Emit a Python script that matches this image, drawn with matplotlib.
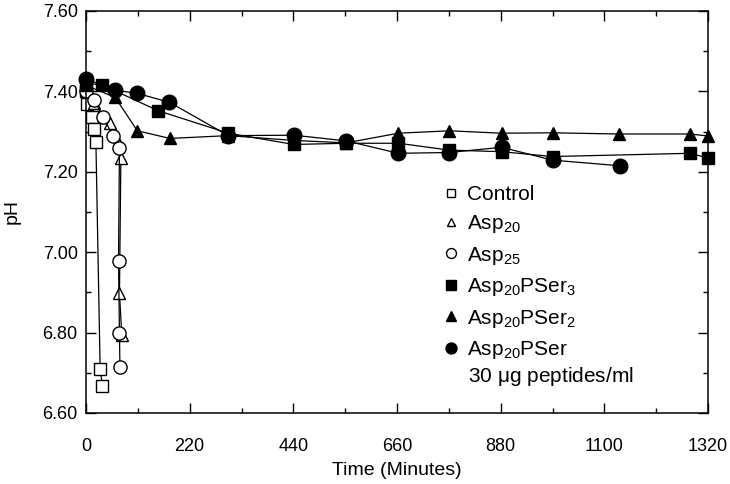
import matplotlib
matplotlib.use("Agg")
import matplotlib.pyplot as plt
from matplotlib.ticker import MultipleLocator

plt.rcParams['font.family'] = ['Liberation Sans', 'DejaVu Sans']
plt.rcParams['mathtext.fontset'] = 'custom'
plt.rcParams['mathtext.rm'] = 'Liberation Sans'
plt.rcParams['mathtext.it'] = 'Liberation Sans:italic'
plt.rcParams['mathtext.default'] = 'regular'

# time (minutes) / pH
control_t = [0, 3, 13, 18, 21, 30, 35]
control_ph = [7.40, 7.368, 7.337, 7.307, 7.275, 6.709, 6.667]

asp20_t = [0, 17, 50, 71, 74, 71, 76]
asp20_ph = [7.41, 7.37, 7.321, 7.268, 7.234, 6.898, 6.794]

asp25_t = [0, 17, 37, 57, 71, 69, 71, 72]
asp25_ph = [7.40, 7.378, 7.336, 7.289, 7.258, 6.978, 6.798, 6.715]

pser3_t = [0, 35, 153, 302, 441, 552, 663, 771, 882, 990, 1282, 1321]
pser3_ph = [7.42, 7.416, 7.352, 7.296, 7.268, 7.271, 7.271, 7.254, 7.250, 7.238, 7.246, 7.234]

pser2_t = [0, 62, 109, 178, 302, 441, 552, 663, 771, 882, 990, 1131, 1282, 1321]
pser2_ph = [7.415, 7.385, 7.302, 7.283, 7.29, 7.278, 7.272, 7.296, 7.302, 7.296, 7.297, 7.294, 7.294, 7.289]

pser_t = [0, 62, 109, 177, 302, 441, 552, 663, 771, 882, 990, 1133]
pser_ph = [7.431, 7.403, 7.395, 7.373, 7.29, 7.291, 7.277, 7.246, 7.248, 7.261, 7.229, 7.215]

series = [
    (control_t, control_ph, 's', 'none', 8, 'Control'),
    (asp20_t, asp20_ph, '^', 'none', 8.5, 'Asp$_{20}$'),
    (asp25_t, asp25_ph, 'o', 'none', 9.5, 'Asp$_{25}$'),
    (pser3_t, pser3_ph, 's', 'black', 9, 'Asp$_{20}$PSer$_3$'),
    (pser2_t, pser2_ph, '^', 'black', 9, 'Asp$_{20}$PSer$_2$'),
    (pser_t, pser_ph, 'o', 'black', 10.5, 'Asp$_{20}$PSer'),
]

fig = plt.figure(figsize=(7.3, 4.84), dpi=100)
ax = fig.add_axes([86 / 730, 1 - 413 / 484, 622 / 730, 402 / 484])

handles = []
for t, ph, mk, fc, ms, lab in series:
    ln, = ax.plot(t, ph, color='black', lw=0.9, marker=mk, markersize=ms,
                  markerfacecolor=fc if fc != 'none' else 'white',
                  markeredgecolor='black', markeredgewidth=1.0, label=lab,
                  clip_on=False)
    handles.append(ln)

ax.set_xlim(0, 1320)
ax.set_ylim(6.60, 7.60)
ax.xaxis.set_major_locator(MultipleLocator(220))
ax.xaxis.set_minor_locator(MultipleLocator(110))
ax.yaxis.set_major_locator(MultipleLocator(0.2))
ax.yaxis.set_minor_locator(MultipleLocator(0.1))
ax.yaxis.set_major_formatter(matplotlib.ticker.FormatStrFormatter('%.2f'))

ax.tick_params(which='both', direction='in', top=True, right=True, labelsize=13)
ax.tick_params(which='major', length=7, width=1)
ax.tick_params(which='minor', length=3.5, width=1)
ax.tick_params(axis='x', which='major', pad=18)
ax.tick_params(axis='y', which='major', pad=6)
for sp in ax.spines.values():
    sp.set_linewidth(1.1)

ax.set_xlabel('Time (Minutes)', fontsize=14, labelpad=5)
ax.set_ylabel('pH', fontsize=14, labelpad=16)

leg = ax.legend(handles=[
    plt.Line2D([], [], ls='none', marker=h.get_marker(), markersize=h.get_markersize() * 0.75,
               markerfacecolor=h.get_markerfacecolor(), markeredgecolor='black')
    for h in handles],
    labels=[h.get_label() for h in handles],
    loc='upper left', bbox_to_anchor=(441 / 730, 1 - 185 / 484),
    bbox_transform=fig.transFigure, frameon=False, fontsize=15,
    handlelength=1.0, handletextpad=0.25, labelspacing=0.45,
    borderpad=0, borderaxespad=0)

fig.text(468 / 730, 1 - 376 / 484, '30 $\\mu$g peptides/ml', fontsize=15, va='center')

fig.savefig('out.png', dpi=100)
